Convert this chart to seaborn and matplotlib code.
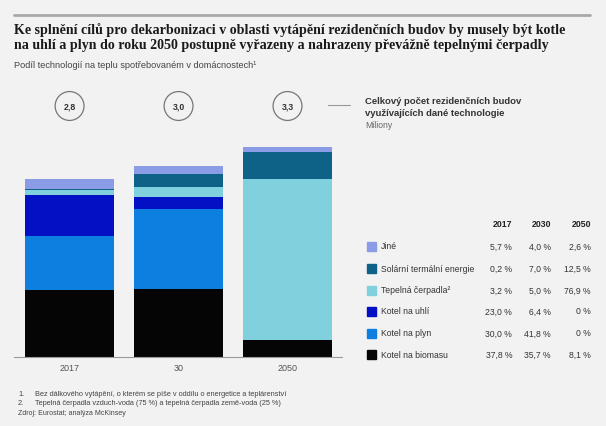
import numpy as np
import pandas as pd
import matplotlib
matplotlib.use("Agg")
import matplotlib.pyplot as plt
import seaborn as sns

# Data
years = ["2017", "2030", "2050"]
tick_labels = ["2017", "30", "2050"]
totals = [2.8, 3.0, 3.3]          # millions of buildings
total_labels = ["2,8", "3,0", "3,3"]

# technologies, bottom -> top of the stack
techs = ["Kotel na biomasu", "Kotel na plyn", "Kotel na uhlí",
         "Tepelná čerpadla²", "Solární termální energie", "Jiné"]
share_2017 = [37.8, 30.0, 23.0, 3.2, 0.2, 5.7]
share_2030 = [35.7, 41.8, 6.4, 5.0, 7.0, 4.0]
share_2050 = [8.1, 0.0, 0.0, 76.9, 12.5, 2.6]
share_labels_2017 = ["37,8 %", "30,0 %", "23,0 %", "3,2 %", "0,2 %", "5,7 %"]
share_labels_2030 = ["35,7 %", "41,8 %", "6,4 %", "5,0 %", "7,0 %", "4,0 %"]
share_labels_2050 = ["8,1 %", "0 %", "0 %", "76,9 %", "12,5 %", "2,6 %"]

colors = {
    "Kotel na biomasu": "#050505",
    "Kotel na plyn": "#0d7fe0",
    "Kotel na uhlí": "#0410c4",
    "Tepelná čerpadla²": "#80d0de",
    "Solární termální energie": "#0e6288",
    "Jiné": "#8a9ce6",
}

bg = "#f2f2f2"
sns.set_style("white")
plt.rcParams["font.family"] = ["Liberation Sans", "DejaVu Sans"]

W, H = 606, 427
fig = plt.figure(figsize=(W / 100, H / 100), dpi=100)
fig.patch.set_facecolor(bg)

def fx(px):
    return px / W

def fy(py):
    return 1 - py / H

# build long table of cumulative heights
shares = [share_2017, share_2030, share_2050]
rows = []
for yi, yr in enumerate(years):
    cum = 0.0
    for ti, t in enumerate(techs):
        cum += totals[yi] * shares[yi][ti] / 100
        rows.append({"year": yr, "tech": t, "cum": cum})
df = pd.DataFrame(rows)

# main bar axes: baseline y=358, x 14..342, 63.6 px per million
base_y = 358
ppm = 63.6
ymax = 3.6
ax = fig.add_axes([fx(14), fy(base_y), fx(342 - 14), ymax * ppm / H])
ax.set_facecolor(bg)
for t in reversed(techs):
    sub = df[df["tech"] == t]
    sns.barplot(data=sub, x="year", y="cum", order=years, color=colors[t],
                width=0.81, saturation=1, errorbar=None, ax=ax, linewidth=0)
ax.set_xlim(-0.51, 2.5)
ax.set_ylim(0, ymax)
ax.set_xlabel("")
ax.set_ylabel("")
ax.set_yticks([])
ax.set_xticks(range(3))
ax.set_xticklabels(tick_labels, fontsize=6.5, color="#555555")
ax.tick_params(axis="x", length=0, pad=4)
for s in ["top", "right", "left"]:
    ax.spines[s].set_visible(False)
ax.spines["bottom"].set_color("#999999")
ax.spines["bottom"].set_linewidth(0.8)

# circled totals
circ_y = (base_y - 107) / ppm
for i, lab in enumerate(total_labels):
    ax.text(i, circ_y, lab, ha="center", va="center", fontsize=6.3,
            fontweight="bold", color="#333333", clip_on=False,
            bbox=dict(boxstyle="circle,pad=0.95", fc=bg, ec="#777777", lw=0.9))

# top rule
fig.add_artist(plt.Line2D([fx(14), fx(590)], [fy(16), fy(16)], color="#a8a8a8", lw=2))

# title and subtitle
fig.text(fx(14), fy(30), "Ke splnění cílů pro dekarbonizaci v oblasti vytápění rezidenčních budov by musely být kotle",
         fontsize=10.1, fontweight="bold", family="Liberation Serif", va="center", color="#1a1a1a")
fig.text(fx(14), fy(46), "na uhlí a plyn do roku 2050 postupně vyřazeny a nahrazeny převážně tepelnými čerpadly",
         fontsize=10.1, fontweight="bold", family="Liberation Serif", va="center", color="#1a1a1a")
fig.text(fx(14), fy(66), "Podíl technologií na teplu spotřebovaném v domácnostech¹",
         fontsize=6.6, va="center", color="#444444")

# connector line and annotation for the totals
fig.add_artist(plt.Line2D([fx(328), fx(350)], [fy(106), fy(106)], color="#999999", lw=0.8))
fig.text(fx(365), fy(101), "Celkový počet rezidenčních budov", fontsize=6.8, fontweight="bold",
         va="center", color="#333333")
fig.text(fx(365), fy(113), "využívajících dané technologie", fontsize=6.8, fontweight="bold",
         va="center", color="#333333")
fig.text(fx(365), fy(125), "Miliony", fontsize=6.2, va="center", color="#666666")

# table legend on the right
col_x = [512, 551, 591]
for c in range(3):
    fig.text(fx(col_x[c]), fy(225), years[c], ha="right", va="center", fontsize=6.3,
             fontweight="bold", color="#222222")
row_y = [247, 269, 291, 312, 334, 355]
labels_by_year = [share_labels_2017, share_labels_2030, share_labels_2050]
for r, t in enumerate(reversed(techs)):
    ti = techs.index(t)
    y = row_y[r]
    fig.add_artist(plt.Rectangle((fx(367), fy(y + 4.5)), fx(9), 9 / H, color=colors[t],
                                 transform=fig.transFigure))
    fig.text(fx(381), fy(y), t, va="center", fontsize=6.2, color="#333333")
    for c in range(3):
        fig.text(fx(col_x[c]), fy(y), labels_by_year[c][ti], ha="right", va="center",
                 fontsize=6.2, color="#333333")

# footnotes
fn = 5.3
fig.text(fx(18), fy(395), "1.", fontsize=fn, va="center", color="#444444")
fig.text(fx(35), fy(395), "Bez dálkového vytápění, o kterém se píše v oddílu o energetice a teplárenství",
         fontsize=fn, va="center", color="#444444")
fig.text(fx(18), fy(404), "2.", fontsize=fn, va="center", color="#444444")
fig.text(fx(35), fy(404), "Tepelná čerpadla vzduch-voda (75 %) a tepelná čerpadla země-voda (25 %)",
         fontsize=fn, va="center", color="#444444")
fig.text(fx(18), fy(414), "Zdroj: Eurostat; analýza McKinsey", fontsize=5.0, va="center", color="#444444")

fig.savefig("out.png", dpi=100, facecolor=bg)
